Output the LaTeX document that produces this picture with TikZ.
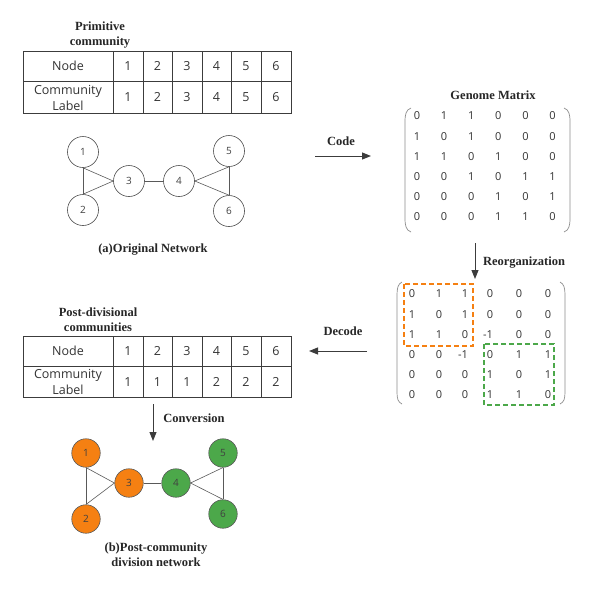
\documentclass[tikz,border=0pt]{standalone}
\usepackage{fontspec}
\setmainfont{Liberation Serif}
\newfontfamily\sansf{Open Sans}
\usetikzlibrary{arrows.meta}
\definecolor{orgc}{RGB}{245,128,18}
\definecolor{grnc}{RGB}{76,168,74}
\definecolor{inkc}{RGB}{60,60,60}
\begin{document}
\begin{tikzpicture}[x=1pt,y=-1pt,
  title/.style={font=\fontsize{12.5}{15}\selectfont\bfseries, align=center, text=black!85, inner sep=0pt},
  cell/.style={font=\sansf\fontsize{12.5}{15.5}\selectfont, align=center, text=black!80, inner sep=0pt},
  mat/.style={font=\sansf\fontsize{11}{12}\selectfont, text=black!80, inner sep=0pt},
  grid/.style={draw=inkc, line width=0.7pt},
  vx/.style={circle, draw=black!70, line width=0.6pt, minimum size=31pt, inner sep=0pt, font=\sansf\fontsize{10}{10}\selectfont, text=black!75},
  vxb/.style={vx, minimum size=28.5pt, draw=black!65},
  edge/.style={draw=black!65, line width=0.6pt},
  flow/.style={draw=inkc, line width=1pt, -{Triangle[length=9pt,width=7pt]}},
  paren/.style={draw=black!45, line width=0.7pt},
  box/.style={dashed, line width=1.3pt, dash pattern=on 5pt off 3pt}
]
\useasboundingbox (0,0) rectangle (600,590);

% ---------- top table ----------
\node[title] (t1) at (100,35) {Primitive\\community};
\draw[grid] (23,51) rectangle (291,113);
\draw[grid] (23,81) -- (291,81);
\foreach \x in {113,143,172,202,231,261} \draw[grid] (\x,51) -- (\x,113);
\node[cell] (t1n) at (68,66) {Node};
\node[cell] (t1l) at (68,98) {Community\\Label};
\foreach \c [count=\i] in {128,157.5,187,216.5,246,276} {
  \node[cell] (t1a\i) at (\c,66) {\i};
  \node[cell] (t1b\i) at (\c,97) {\i};
}

% ---------- network (a) ----------
\node[vx] (a1) at (83,152) {1};
\node[vx] (a2) at (83,210) {2};
\node[vx] (a3) at (129,181) {3};
\node[vx] (a4) at (179,181) {4};
\node[vx] (a5) at (229,151) {5};
\node[vx] (a6) at (229,211) {6};
\draw[edge] (a1.south) -- (a2.north);
\draw[edge] (a1.south) -- (a3.west);
\draw[edge] (a2.north) -- (a3.west);
\draw[edge] (a3.east) -- (a4.west);
\draw[edge] (a4.east) -- (a5.south);
\draw[edge] (a4.east) -- (a6.north);
\draw[edge] (a5.south) -- (a6.north);
\node[title] (capa) at (153,250) {(a)Original Network};

% ---------- code arrow ----------
\coordinate (c0) at (315,156);
\coordinate (c1) at (371,156);
\draw[flow] (c0) -- (c1);
\node[title] (code) at (341,141) {Code};

% ---------- genome matrix ----------
\node[title] (gm) at (493,95) {Genome Matrix};
\draw[paren] (411,108) .. controls (406,110) and (405,114) .. (405,122) -- (405,218) .. controls (405,226) and (406,230) .. (411,232);
\draw[paren] (564,108) .. controls (569,110) and (570,114) .. (570,122) -- (570,218) .. controls (570,226) and (569,230) .. (564,232);
\foreach \row [count=\i] in {{0,1,1,0,0,0},{1,0,1,0,0,0},{1,1,0,1,0,0},{0,0,1,0,1,1},{0,0,0,1,0,1},{0,0,0,1,1,0}} {
  \foreach \v [count=\j] in \row {
    \pgfmathsetmacro{\xx}{417+27.1*(\j-1)}
    \pgfmathsetmacro{\yy}{116+20.2*(\i-1)}
    \node[mat] (g\i\j) at (\xx,\yy) {\v};
  }
}

% ---------- reorganization arrow ----------
\coordinate (r0) at (475,243);
\coordinate (r1) at (475,279);
\draw[flow] (r0) -- (r1);
\node[title] (reorg) at (524,263) {Reorganization};

% ---------- reorganized matrix ----------
\draw[paren] (402,282) .. controls (398,284) and (397,288) .. (397,295) -- (397,392) .. controls (397,399) and (398,402) .. (402,404);
\draw[paren] (560,282) .. controls (564,284) and (565,288) .. (565,295) -- (565,392) .. controls (565,399) and (564,402) .. (560,404);
\foreach \row [count=\i] in {{0,1,1,0,0,0},{1,0,1,0,0,0},{1,1,0,-1,0,0},{0,0,-1,0,1,1},{0,0,0,1,0,1},{0,0,0,1,1,0}} {
  \foreach \v [count=\j] in \row {
    \pgfmathsetmacro{\xx}{{412,439,465,490,519,548}[\j-1]}
    \pgfmathsetmacro{\yy}{294+20.2*(\i-1)}
    \ifnum\v<0
      \node[mat] (h\i\j) at (\xx-2,\yy) {-1};
    \else
      \node[mat] (h\i\j) at (\xx,\yy) {\v};
    \fi
  }
}
\draw[box, draw=orgc] (404,284) rectangle (473,346);
\draw[box, draw=grnc] (484,344) rectangle (554,405);

% ---------- decode arrow ----------
\coordinate (d0) at (367,351);
\coordinate (d1) at (309,351);
\draw[flow] (d0) -- (d1);
\node[title] (decode) at (343,331) {Decode};

% ---------- bottom table ----------
\node[title] (t2) at (98,320) {Post-divisional\\communities};
\draw[grid] (23,336) rectangle (291,397);
\draw[grid] (23,366) -- (291,366);
\foreach \x in {113,143,172,202,231,261} \draw[grid] (\x,336) -- (\x,397);
\node[cell] (t2n) at (68,351) {Node};
\node[cell] (t2l) at (68,382) {Community\\Label};
\foreach \c/\l [count=\i] in {128/1,157.5/1,187/1,216.5/2,246/2,276/2} {
  \node[cell] (t2a\i) at (\c,351) {\i};
  \node[cell] (t2b\i) at (\c,382) {\l};
}

% ---------- conversion arrow ----------
\coordinate (v0) at (153,404);
\coordinate (v1) at (153,441);
\draw[flow] (v0) -- (v1);
\node[title] (conv) at (194,418) {Conversion};

% ---------- network (b) ----------
\node[vxb, fill=orgc] (b1) at (86,453) {1};
\node[vxb, fill=orgc] (b2) at (86,519) {2};
\node[vxb, fill=orgc] (b3) at (129,483) {3};
\node[vxb, fill=grnc] (b4) at (176,483) {4};
\node[vxb, fill=grnc] (b5) at (223,453) {5};
\node[vxb, fill=grnc] (b6) at (223,514) {6};
\draw[edge] (b1.south) -- (b2.north);
\draw[edge] (b1.south) -- (b3.west);
\draw[edge] (b2.north) -- (b3.west);
\draw[edge] (b3.east) -- (b4.west);
\draw[edge] (b4.east) -- (b5.south);
\draw[edge] (b4.east) -- (b6.north);
\draw[edge] (b5.south) -- (b6.north);
\node[title] (capb) at (156,555) {(b)Post-community\\division network};
\end{tikzpicture}
\end{document}
